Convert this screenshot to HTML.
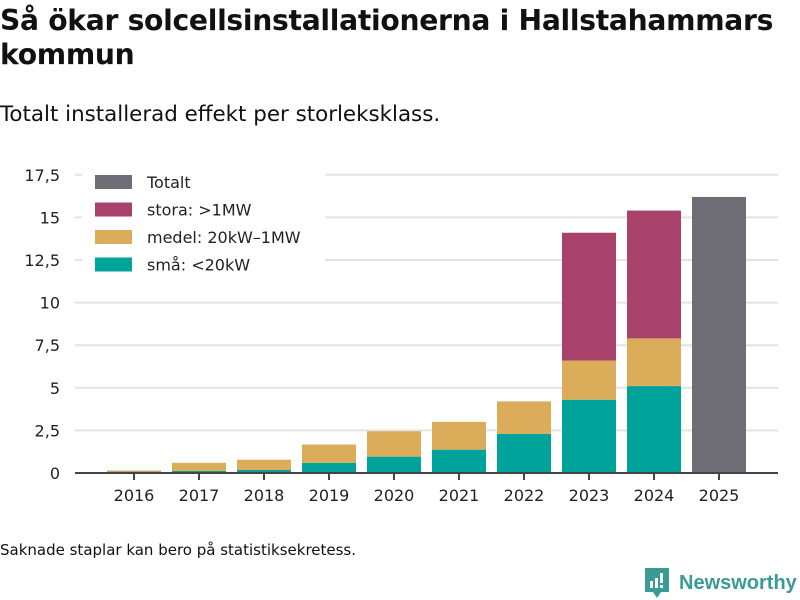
<!DOCTYPE html>
<html><head><meta charset="utf-8">
<style>
body{margin:0;width:800px;height:600px;background:#fff;font-family:"Liberation Sans","DejaVu Sans",sans-serif;color:#111;position:relative;overflow:hidden}
h1{position:absolute;left:0;top:4px;margin:0;font-size:28.2px;line-height:34px;font-weight:bold;font-family:"DejaVu Sans","Liberation Sans",sans-serif;letter-spacing:-0.3px}
.sub{position:absolute;left:0;top:102px;font-size:21.4px;font-family:"DejaVu Sans",sans-serif}
.note{position:absolute;left:0;top:541px;font-size:15px;font-family:"DejaVu Sans",sans-serif}
.logo{position:absolute;left:645px;top:568px;display:flex;align-items:center;gap:10px;color:#3a9b94;font-size:20px;font-weight:bold;font-family:"Liberation Sans",sans-serif}
svg text{font-family:"DejaVu Sans","Liberation Sans",sans-serif}
</style></head><body>
<h1>Så ökar solcellsinstallationerna i Hallstahammars kommun</h1>
<div class="sub">Totalt installerad effekt per storleksklass.</div>
<svg id="chart" width="800" height="600" style="position:absolute;left:0;top:0"></svg>
<div class="note">Saknade staplar kan bero på statistiksekretess.</div>
<div class="logo"><svg width="24" height="30" viewBox="0 0 24 30"><path d="M0 0h24v24h-8l-4 6-4-6H0z" fill="#3a9b94"/><rect x="5" y="13" width="3" height="7" fill="#fff"/><rect x="10" y="10" width="3" height="10" fill="#fff"/><rect x="15" y="5" width="3" height="10" fill="#fff"/><rect x="15" y="17" width="3" height="3" fill="#fff"/></svg><span>Newsworthy</span></div>
<script>
const years=["2016","2017","2018","2019","2020","2021","2022","2023","2024","2025"];
const small=[0.08,0.12,0.18,0.6,0.96,1.37,2.3,4.3,5.1,null];
const medium=[0.07,0.48,0.6,1.07,1.49,1.63,1.9,2.3,2.8,null];
const large=[0,0,0,0,0,0,0,7.5,7.5,null];
const total=[null,null,null,null,null,null,null,null,null,16.2];
const yTicks=[0,2.5,5,7.5,10,12.5,15,17.5];
const yTickLabels=["0","2,5","5","7,5","10","12,5","15","17,5"];
const legendLabels=["Totalt","stora: >1MW","medel: 20kW–1MW","små: <20kW"];
const colors={small:"#00a39a",medium:"#dbac5a",large:"#a8426a",total:"#6f6e76"};
const svg=document.getElementById('chart');
const NS="http://www.w3.org/2000/svg";
const y0=473,ppu=17.04,x0=134,step=65,bw=54;
const Y=v=>y0-v*ppu, X=i=>x0+i*step;
function mk(t,a){const e=document.createElementNS(NS,t);for(const k in a)e.setAttribute(k,a[k]);svg.appendChild(e);return e;}
yTicks.forEach((v,i)=>{
  if(v>0){const g=mk('line',{x1:75,x2:778,y1:Y(v),y2:Y(v),stroke:'#e3e3e3','stroke-width':2});
  
  }
  const t=mk('text',{x:60,y:Y(v)+6,'text-anchor':'end','font-size':16,fill:'#222'});t.textContent=yTickLabels[i];
  
  
});
years.forEach((yr,i)=>{
  let base=0;
  [[small,'small'],[medium,'medium'],[large,'large'],[total,'total']].forEach(([arr,k])=>{
    const v=arr[i]; if(!v) return;
    const r=mk('rect',{x:X(i)-bw/2,y:Y(base+v),width:bw,height:v*ppu,fill:colors[k]});
    
    
    base+=v;
  });
  mk('line',{x1:X(i),x2:X(i),y1:y0,y2:y0+7,stroke:'#444','stroke-width':2});
  const t=mk('text',{x:X(i),y:501,'text-anchor':'middle','font-size':16,fill:'#222'});t.textContent=yr;
  
  
});
const ax=mk('line',{x1:75,x2:778,y1:y0,y2:y0,stroke:'#444','stroke-width':2});


const lb=mk('rect',{x:82,y:168,width:243,height:98,fill:'#fff'});


const lc=[colors.total,colors.large,colors.medium,colors.small];
legendLabels.forEach((l,i)=>{
  const yy=175+i*27.5;
  const s=mk('rect',{x:95,y:yy,width:37,height:14,fill:lc[i]});
  
  
  const t=mk('text',{x:147,y:yy+13,'font-size':16,fill:'#222'});t.textContent=l;
  
  
});
</script>
</body></html>
